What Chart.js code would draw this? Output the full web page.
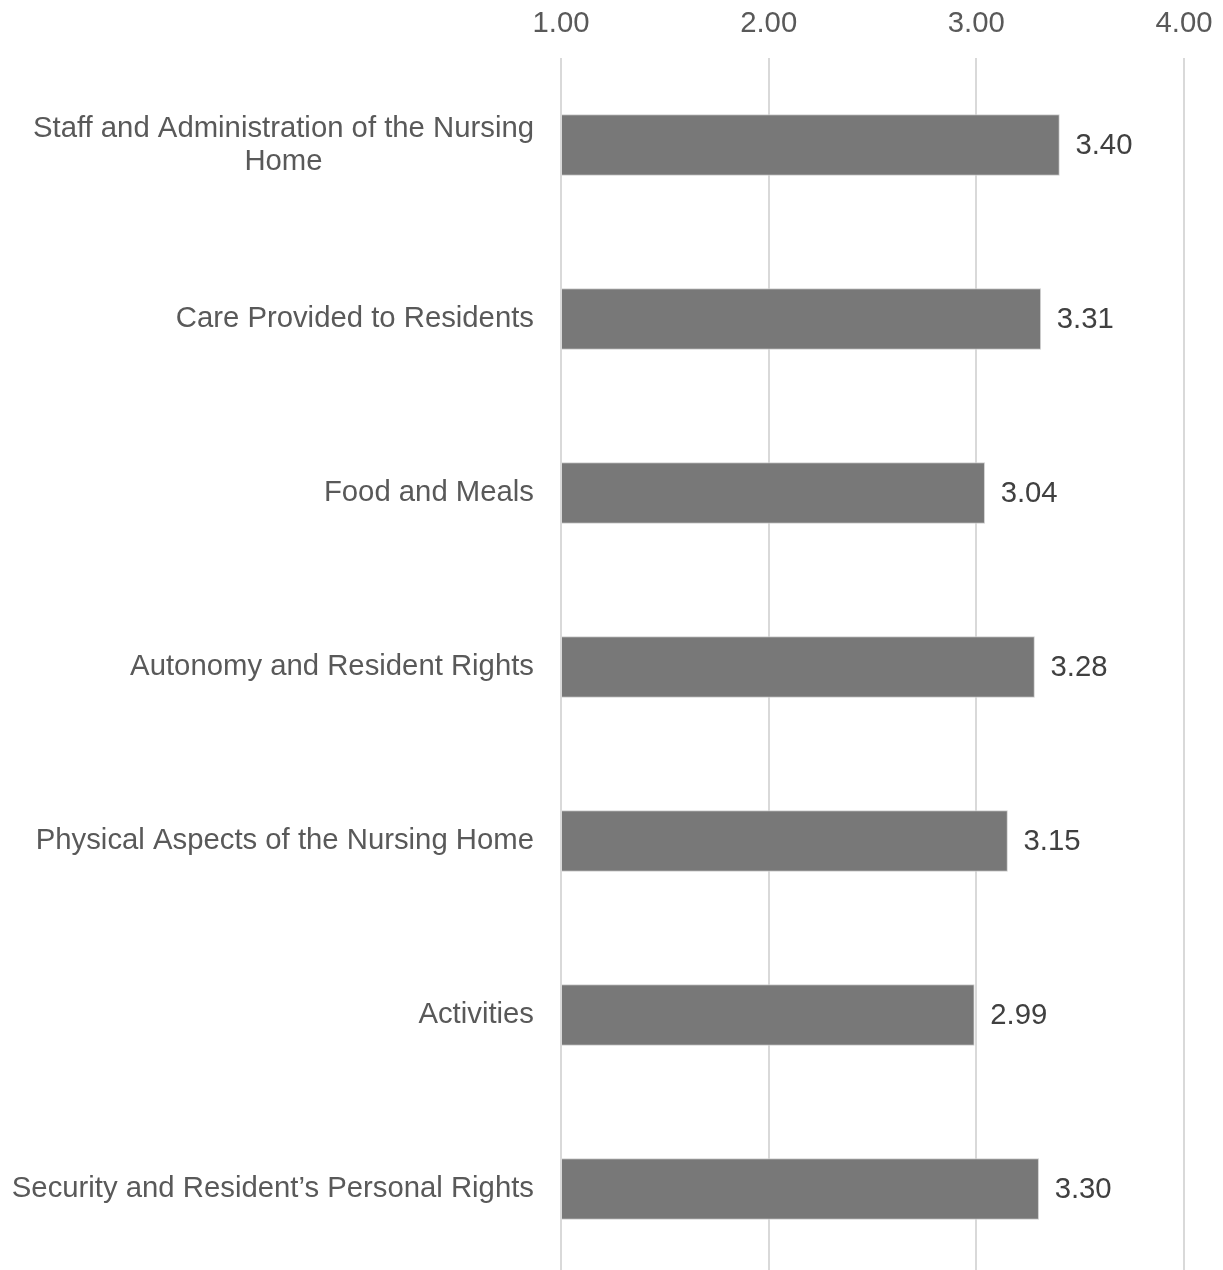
<!DOCTYPE html>
<html>
<head>
    <title>Nursing Home Scores</title>
    <script src="https://cdn.jsdelivr.net/npm/chart.js"></script>
    <style>
        body { margin: 0; background: #fff; }
        #wrap { width: 1223px; height: 1276px; }
    </style>
</head>
<body>
    <div id="wrap"><canvas id="scoreChart"></canvas></div>

    <script>
        const categories = [
            ['Staff and Administration of the Nursing', 'Home'],
            'Care Provided to Residents',
            'Food and Meals',
            'Autonomy and Resident Rights',
            'Physical Aspects of the Nursing Home',
            'Activities',
            'Security and Resident\u2019s Personal Rights'
        ];
        const scores = [3.40, 3.31, 3.04, 3.28, 3.15, 2.99, 3.30];
        const axisMin = 1;
        const axisMax = 4;

        const FONT = '"Liberation Sans", Arial, sans-serif';
        const FS = 29.3;

        // category names centred per line, value labels right of each bar
        const labelPlugin = {
            id: 'labels',
            afterDatasetsDraw(chart) {
                const ctx = chart.ctx;
                const yScale = chart.scales.y;
                const meta = chart.getDatasetMeta(0);
                ctx.save();
                ctx.font = FS + 'px ' + FONT;
                ctx.textBaseline = 'middle';

                categories.forEach((cat, i) => {
                    const y = yScale.getPixelForValue(i);
                    const lines = Array.isArray(cat) ? cat : [cat];
                    const right = chart.chartArea.left - 27;
                    ctx.fillStyle = '#595959';
                    if (lines.length === 1) {
                        ctx.textAlign = 'right';
                        ctx.fillText(lines[0], right, y);
                    } else {
                        const w = Math.max(...lines.map(l => ctx.measureText(l).width));
                        const cx = right - w / 2;
                        ctx.textAlign = 'center';
                        lines.forEach((l, j) => {
                            ctx.fillText(l, cx, y + (j - (lines.length - 1) / 2) * 33);
                        });
                    }
                });

                ctx.fillStyle = '#404040';
                ctx.textAlign = 'left';
                meta.data.forEach((bar, i) => {
                    ctx.fillText(scores[i].toFixed(2), bar.x + 16, bar.y + 1);
                });
                ctx.restore();
            }
        };

        new Chart(document.getElementById('scoreChart'), {
            type: 'bar',
            data: {
                labels: categories,
                datasets: [{
                    data: scores,
                    base: axisMin,
                    backgroundColor: '#787878',
                    borderColor: '#d0d0d0',
                    borderWidth: 1,
                    barThickness: 61
                }]
            },
            options: {
                indexAxis: 'y',
                responsive: true,
                maintainAspectRatio: false,
                animation: false,
                layout: { padding: { left: 0, right: 39, top: 0, bottom: 0 } },
                plugins: {
                    legend: { display: false },
                    tooltip: { enabled: false }
                },
                scales: {
                    x: {
                        position: 'top',
                        min: axisMin,
                        max: axisMax,
                        afterFit(scale) {
                            scale.height = 58;
                            scale.paddingLeft = 0;
                            scale.paddingRight = 0;
                        },
                        ticks: {
                            stepSize: 1,
                            color: '#595959',
                            font: { family: FONT, size: FS },
                            padding: 17,
                            callback: v => v.toFixed(2)
                        },
                        grid: {
                            color: '#d9d9d9',
                            lineWidth: 2,
                            drawTicks: false
                        },
                        border: { display: false }
                    },
                    y: {
                        afterFit(scale) { scale.width = 561; },
                        ticks: { display: false },
                        grid: { display: false },
                        border: { display: false }
                    }
                }
            },
            plugins: [labelPlugin]
        });
    </script>
</body>
</html>
